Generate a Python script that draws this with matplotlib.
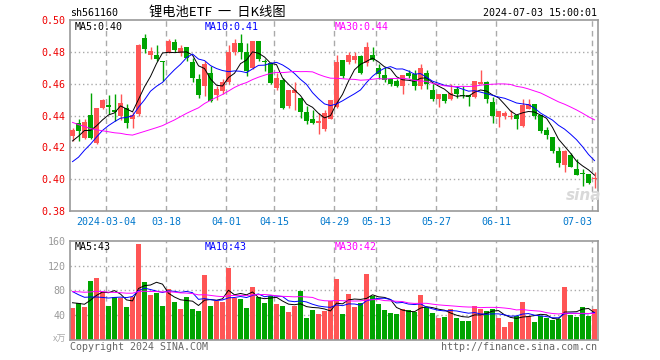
import matplotlib
matplotlib.use("Agg")
import matplotlib.pyplot as plt
import pandas as pd

# 88 trading days, 2024-02-23 .. 2024-07-03
opens = [0.427, 0.435, 0.426, 0.440, 0.4226, 0.4446, 0.4465, 0.4435, 0.440, 0.445,
         0.438, 0.441, 0.489, 0.478, 0.478, 0.4742, 0.480, 0.486, 0.4792, 0.4829,
         0.4733, 0.463, 0.4588, 0.4667, 0.4529, 0.4554, 0.4613, 0.4796, 0.4858, 0.4796,
         0.470, 0.487, 0.4742, 0.4729, 0.4575, 0.4625, 0.4458, 0.4542, 0.4513, 0.4425,
         0.4379, 0.435, 0.4313, 0.4379, 0.4454, 0.4746, 0.4733, 0.475, 0.4775, 0.4729,
         0.4783, 0.4696, 0.4657, 0.4627, 0.4615, 0.4585, 0.4665, 0.466, 0.4586, 0.4667,
         0.4559, 0.4504, 0.4535, 0.4504, 0.4565, 0.4531, 0.4531, 0.4519, 0.4598, 0.461,
         0.4485, 0.4388, 0.440, 0.4388, 0.440, 0.4333, 0.4442, 0.4475, 0.440, 0.4308,
         0.4263, 0.4175, 0.4092, 0.4154, 0.4063, 0.4035, 0.4033, 0.400]
highs = [0.432, 0.438, 0.438, 0.454, 0.445, 0.4504, 0.453, 0.4537, 0.4533, 0.4475,
         0.442, 0.485, 0.491, 0.4833, 0.484, 0.4745, 0.488, 0.488, 0.4846, 0.483,
         0.4763, 0.466, 0.474, 0.471, 0.4588, 0.4629, 0.4846, 0.4883, 0.4913, 0.4858,
         0.4871, 0.487, 0.4754, 0.4738, 0.467, 0.4633, 0.4558, 0.4613, 0.4513, 0.4458,
         0.4433, 0.4413, 0.4433, 0.4496, 0.4779, 0.4746, 0.4796, 0.4796, 0.478, 0.4863,
         0.4833, 0.4725, 0.4702, 0.4632, 0.4631, 0.4653, 0.4688, 0.4688, 0.4722, 0.4688,
         0.460, 0.4535, 0.4535, 0.460, 0.4585, 0.4585, 0.4531, 0.4615, 0.4685, 0.4615,
         0.4517, 0.4431, 0.4429, 0.4433, 0.440, 0.4504, 0.4504, 0.4475, 0.440, 0.4325,
         0.4263, 0.420, 0.4183, 0.4163, 0.4125, 0.4063, 0.4033, 0.4042]
lows = [0.424, 0.424, 0.425, 0.425, 0.422, 0.444, 0.441, 0.4367, 0.437, 0.432,
        0.432, 0.440, 0.479, 0.4754, 0.474, 0.4617, 0.479, 0.4796, 0.4775, 0.474,
        0.4613, 0.451, 0.4525, 0.4485, 0.450, 0.4538, 0.460, 0.478, 0.4754, 0.465,
        0.469, 0.474, 0.4679, 0.460, 0.4558, 0.444, 0.445, 0.4433, 0.4383, 0.4346,
        0.4346, 0.4283, 0.4304, 0.4375, 0.4446, 0.4633, 0.4725, 0.473, 0.4658, 0.4708,
        0.474, 0.463, 0.461, 0.4585, 0.4576, 0.4535, 0.4635, 0.456, 0.4565, 0.4565,
        0.449, 0.4453, 0.4478, 0.4496, 0.451, 0.451, 0.446, 0.451, 0.4598, 0.4477,
        0.4354, 0.4329, 0.4375, 0.4379, 0.4313, 0.4325, 0.4438, 0.4379, 0.4288, 0.425,
        0.4163, 0.4079, 0.4042, 0.4075, 0.4029, 0.3958, 0.3967, 0.3942]
closes = [0.431, 0.430, 0.436, 0.426, 0.4446, 0.4496, 0.4455, 0.4425, 0.448, 0.435,
          0.4405, 0.4846, 0.482, 0.4805, 0.4755, 0.4738, 0.4867, 0.481, 0.4821, 0.4763,
          0.4638, 0.4529, 0.4725, 0.4492, 0.4567, 0.4613, 0.4796, 0.4858, 0.4796, 0.4679,
          0.487, 0.4754, 0.4738, 0.4604, 0.4633, 0.445, 0.4558, 0.4558, 0.4425, 0.4367,
          0.435, 0.4367, 0.4417, 0.4496, 0.4738, 0.4646, 0.4783, 0.4775, 0.4667, 0.4829,
          0.475, 0.4663, 0.462, 0.460, 0.4586, 0.4653, 0.4647, 0.4586, 0.4698, 0.460,
          0.4504, 0.4535, 0.449, 0.4539, 0.4535, 0.4523, 0.4519, 0.4615, 0.461, 0.4502,
          0.440, 0.4429, 0.4413, 0.4396, 0.4379, 0.4467, 0.4471, 0.4396, 0.430, 0.4279,
          0.4179, 0.4104, 0.4175, 0.4079, 0.4029, 0.4031, 0.3979, 0.4008]
volumes = [52, 60, 53, 95, 100, 78, 55, 70, 67, 53,
           70, 155, 93, 72, 75, 55, 82, 62, 50, 69,
           50, 47, 105, 55, 63, 62, 116, 68, 66, 52,
           85, 70, 60, 71, 58, 55, 45, 55, 79, 35,
           48, 42, 46, 63, 98, 42, 74, 53, 60, 106,
           71, 58, 48, 43, 42, 50, 48, 45, 72, 53,
           43, 35, 37, 50, 35, 31, 31, 55, 50, 47,
           50, 35, 21, 29, 39, 61, 39, 29, 39, 35,
           32, 34, 85, 40, 37, 53, 39, 50]

# the 29 days before the window, estimated from where the MA lines start
prev_closes = [0.472, 0.470, 0.468, 0.466, 0.468, 0.464, 0.462, 0.458, 0.457, 0.452,
               0.450, 0.447, 0.445, 0.440, 0.436, 0.432, 0.428, 0.420, 0.415, 0.410,
               0.402, 0.392, 0.388, 0.400, 0.408, 0.415, 0.418, 0.426, 0.430]
prev_volumes = [70, 75, 80, 72, 85, 90, 78, 82, 76, 70,
                74, 80, 85, 78, 72, 76, 80, 84, 78, 75,
                110, 95, 90, 100, 85, 65, 60, 62, 61]

date_pos = [6, 16, 26, 34, 44, 51, 61, 71, 87]
date_labels = ["2024-03-04", "03-18", "04-01", "04-15", "04-29",
               "05-13", "05-27", "06-11", "07-03"]
price_ticks = [0.38, 0.40, 0.42, 0.44, 0.46, 0.48, 0.50]
vol_ticks = [40, 80, 120, 160]

RED = "#ff5555"
GREEN = "#00a400"
GRID = "#aaaaaa"
MONO = "DejaVu Sans Mono"
CJK = ["Noto Sans CJK SC", "DejaVu Sans"]

n = len(closes)
xs = list(range(n))
up = [c >= o for o, c in zip(opens, closes)]
colors = [RED if u else GREEN for u in up]


def ma(prev, cur, k):
    s = pd.Series(prev + cur)
    return s.rolling(k).mean().iloc[len(prev):].values


W, H = 660, 360
fig = plt.figure(figsize=(6.6, 3.6), dpi=100)
fig.patch.set_facecolor("white")


def px_axes(left, top, right, bottom):
    return fig.add_axes([left / W, 1 - bottom / H, (right - left) / W, (bottom - top) / H])


def px_text(x, y, s, **kw):
    fig.text(x / W, 1 - y / H, s, **kw)


ax = px_axes(70, 20, 598, 211)
axv = px_axes(70, 240.7, 598, 340)

xlim = (-0.417, 87.58)
grid_x = [p - 0.35 for p in date_pos]

for a in (ax, axv):
    a.set_xlim(*xlim)
    for s in a.spines.values():
        s.set_color("#999999")
        s.set_linewidth(1.2)
    for gx in grid_x:
        a.axvline(gx, color=GRID, lw=1, ls=(0, (4, 3)), zorder=0)
    a.tick_params(length=0)

# price panel
ax.set_ylim(0.38, 0.50)
for t in price_ticks[1:-1]:
    ax.axhline(t, color=GRID, lw=1, ls=(0, (1, 2)), zorder=0)
ax.vlines(xs, lows, highs, colors=colors, lw=1, zorder=2)
bodies = [max(abs(c - o), 0.0005) for o, c in zip(opens, closes)]
ax.bar(xs, bodies, bottom=[min(o, c) for o, c in zip(opens, closes)],
       width=0.8, color=colors, linewidth=0, zorder=3)
ax.plot(xs, ma(prev_closes, closes, 5), color="black", lw=0.7, zorder=4)
ax.plot(xs, ma(prev_closes, closes, 10), color="#0000ff", lw=0.7, zorder=4)
ax.plot(xs, ma(prev_closes, closes, 30), color="#ff00ff", lw=0.7, zorder=4)
ax.set_yticks(price_ticks)
ax.set_yticklabels([f"{t:.2f}" for t in price_ticks], color="#ee0000",
                   family=MONO, fontsize=7.2)
ax.tick_params(axis="y", pad=3)
ax.set_xticks(grid_x)
xlabels = ax.set_xticklabels(date_labels, color="#0077cc", family=MONO, fontsize=7.2)
xlabels[-1].set_horizontalalignment("right")  # last date kept inside the box
ax.tick_params(axis="x", pad=4)

# volume panel
axv.set_ylim(0, 160)
for t in vol_ticks[:-1]:
    axv.axhline(t, color=GRID, lw=1, ls=(0, (1, 2)), zorder=0)
axv.bar(xs, volumes, width=0.83, color=colors, linewidth=0, zorder=2)
axv.plot(xs, ma(prev_volumes, volumes, 5), color="black", lw=0.7, zorder=4)
axv.plot(xs, ma(prev_volumes, volumes, 10), color="#0000ff", lw=0.7, zorder=4)
axv.plot(xs, ma(prev_volumes, volumes, 30), color="#ff00ff", lw=0.7, zorder=4)
axv.set_yticks(vol_ticks)
axv.set_yticklabels([str(t) for t in vol_ticks], color="#999999",
                    family=MONO, fontsize=7.2)
axv.tick_params(axis="y", pad=3)
axv.set_xticks([])

# header texts
px_text(70, 12.5, "sh561160", family=MONO, fontsize=7.2, va="center")
px_text(217, 12.5, "锂电池ETF  一  日K线图", family=CJK, fontsize=9.5,
        ha="center", va="center")
px_text(597, 12.5, "2024-07-03 15:00:01", family=MONO, fontsize=7.2,
        ha="right", va="center")

ma_x = [75, 205, 335]
ma_colors = ["black", "#0000ff", "#ff00ff"]
price_ma_labels = ["MA5:0.40", "MA10:0.41", "MA30:0.44"]
vol_ma_labels = ["MA5:43", "MA10:43", "MA30:42"]
for x, c, s in zip(ma_x, ma_colors, price_ma_labels):
    px_text(x, 26.5, s, family=MONO, fontsize=7.2, color=c, va="center")
for x, c, s in zip(ma_x, ma_colors, vol_ma_labels):
    px_text(x, 247, s, family=MONO, fontsize=7.2, color=c, va="center")

px_text(584, 196, "sina", fontsize=11, fontweight="bold", style="italic",
        color="#d9d9d9", ha="center", va="center")

px_text(66, 339.5, "x万", family=CJK, fontsize=6.5, color="#aaaaaa",
        ha="right", va="center")
px_text(70, 347, "Copyright 2024 SINA.COM", family=MONO, fontsize=7.2,
        color="#666666", va="center")
px_text(597, 347, "http://finance.sina.com.cn", family=MONO, fontsize=7.2,
        color="#666666", ha="right", va="center")

fig.savefig("out.png", dpi=100, facecolor="white")
